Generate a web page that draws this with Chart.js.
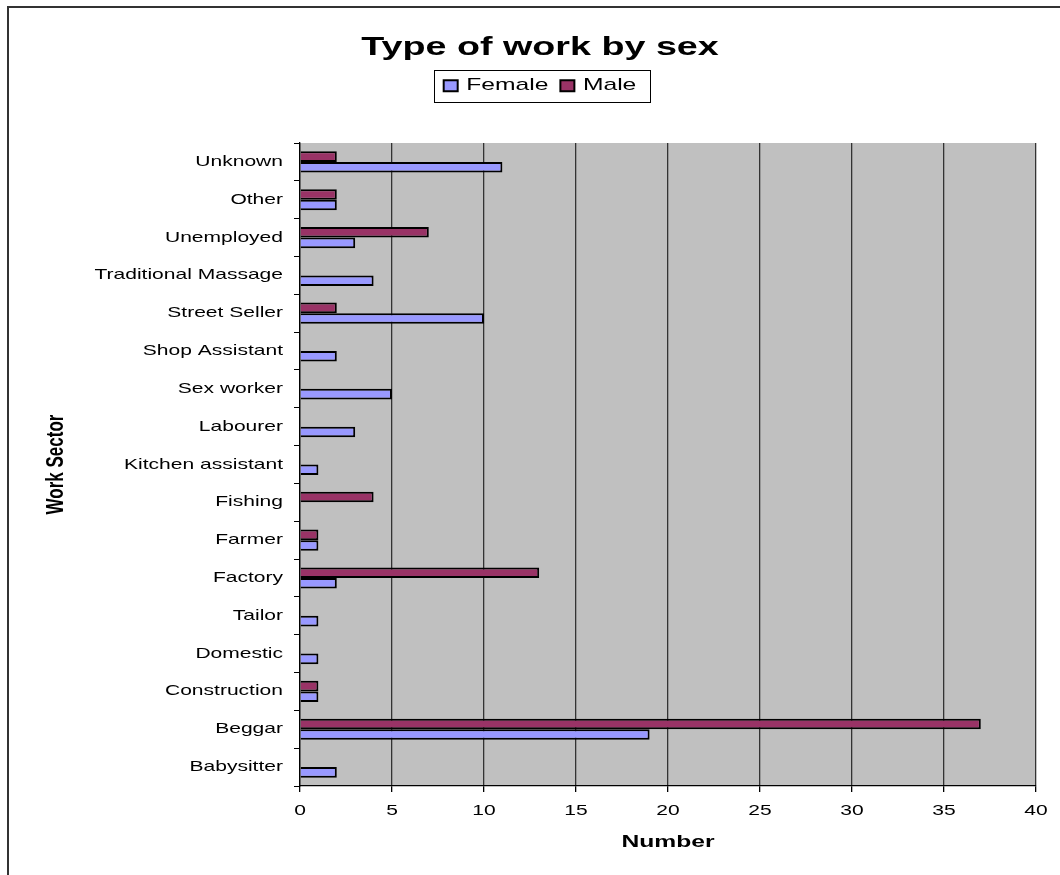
<!DOCTYPE html>
<html>
<head>
<meta charset="utf-8">
<script src="https://cdn.jsdelivr.net/npm/chart.js@4/dist/chart.umd.min.js"></script>
<style>
  html, body { margin: 0; padding: 0; background: #ffffff; }
  #wrap { width: 1060px; height: 875px; position: relative; }
</style>
</head>
<body>
<div id="wrap"><canvas id="c" width="1060" height="875"></canvas></div>
<script>
// ---- data ----
const chartTitle = "Type of work by sex";
const categories = ["Unknown", "Other", "Unemployed", "Traditional Massage", "Street Seller",
  "Shop Assistant", "Sex worker", "Labourer", "Kitchen assistant", "Fishing", "Farmer",
  "Factory", "Tailor", "Domestic", "Construction", "Beggar", "Babysitter"];
const femaleValues = [11, 2, 3, 4, 10, 2, 5, 3, 1, null, 1, 2, 1, 1, 1, 19, 2];
const maleValues   = [2, 2, 7, null, 2, null, null, null, null, 4, 1, 13, null, null, 1, 37, null];
const seriesNames = ["Female", "Male"];
const xTickMin = 0, xTickMax = 40, xTickStep = 5;
const xAxisTitle = "Number";
const yAxisTitle = "Work Sector";

// ---- text stretched horizontally like the reference picture ----
const SX = 1.45;
const canvas = document.getElementById('c');
const ctx = canvas.getContext('2d');
const oFill = ctx.fillText.bind(ctx);
const oMeasure = ctx.measureText.bind(ctx);
ctx.fillText = function (text, x, y, maxWidth) {
  const m = ctx.getTransform();
  const p = m.transformPoint(new DOMPoint(x, y));
  ctx.save();
  ctx.setTransform(m.a * SX, m.b, m.c * SX, m.d, p.x, p.y);
  if (maxWidth === undefined || maxWidth === null) oFill(text, 0, 0);
  else oFill(text, 0, 0, maxWidth / SX);
  ctx.restore();
};
ctx.measureText = function (t) {
  const r = oMeasure(t);
  return {
    width: r.width * SX,
    actualBoundingBoxAscent: r.actualBoundingBoxAscent,
    actualBoundingBoxDescent: r.actualBoundingBoxDescent,
    actualBoundingBoxLeft: r.actualBoundingBoxLeft * SX,
    actualBoundingBoxRight: r.actualBoundingBoxRight * SX,
    fontBoundingBoxAscent: r.fontBoundingBoxAscent,
    fontBoundingBoxDescent: r.fontBoundingBoxDescent
  };
};

const FONT = "'Liberation Sans', Arial, sans-serif";

// spacer between legend and plot area
const spacerPlugin = {
  id: 'spacer',
  beforeInit(chart) {
    const box = {
      position: 'top', weight: 10, fullSize: true, options: {},
      left: 0, top: 0, right: 0, bottom: 0, width: 0, height: 0,
      isHorizontal() { return true; },
      getPadding() { return { top: 0, left: 0, right: 0, bottom: 0 }; },
      update(maxWidth) { this.width = maxWidth; this.height = 38.8; return this; },
      draw() {}
    };
    Chart.layouts.addBox(chart, box);
  }
};

const decorPlugin = {
  id: 'decor',
  beforeDraw(chart) {
    const c = chart.ctx, a = chart.chartArea;
    c.save();
    c.fillStyle = '#ffffff';
    c.fillRect(0, 0, chart.width, chart.height);
    c.fillStyle = '#C0C0C0';
    c.fillRect(a.left, a.top, a.right - a.left, a.bottom - a.top);
    c.strokeStyle = '#333333';
    c.lineWidth = 2;
    c.beginPath();
    c.moveTo(8, chart.height);
    c.lineTo(8, 7);
    c.lineTo(chart.width, 7);
    c.stroke();
    c.restore();
  },
  afterDraw(chart) {
    const hb = chart.legend && chart.legend.legendHitBoxes;
    if (!hb || !hb.length) return;
    const first = hb[0], last = hb[hb.length - 1];
    const cy = first.top + first.height / 2;
    const c = chart.ctx;
    c.save();
    c.strokeStyle = '#000000';
    c.lineWidth = 1;
    const l = Math.round(first.left - 10) + 0.5;
    const r = Math.round(last.left + last.width + 14) + 0.5;
    const t = Math.round(cy - 16) + 0.5;
    const b = Math.round(cy + 16) + 0.5;
    c.strokeRect(l, t, r - l, b - t);
    c.restore();
  }
};

new Chart(ctx, {
  type: 'bar',
  data: {
    labels: categories,
    datasets: [
      { label: seriesNames[1], data: maleValues, backgroundColor: '#993366', borderColor: '#000000', borderWidth: 2 },
      { label: seriesNames[0], data: femaleValues, backgroundColor: '#9999FF', borderColor: '#000000', borderWidth: 2 }
    ]
  },
  options: {
    indexAxis: 'y',
    responsive: false,
    animation: false,
    devicePixelRatio: 1,
    layout: { padding: { left: 44, right: 24, top: 8, bottom: 0 } },
    datasets: { bar: { categoryPercentage: 0.56, barPercentage: 1.0 } },
    plugins: {
      title: {
        display: true, text: chartTitle, color: '#000000',
        font: { family: FONT, size: 26, weight: 'bold' },
        padding: { top: 24, bottom: 2 }
      },
      legend: {
        display: true, position: 'top', reverse: true,
        labels: {
          color: '#000000', boxWidth: 14, boxHeight: 11, padding: 12,
          font: { family: FONT, size: 17 }
        }
      },
      tooltip: { enabled: false }
    },
    scales: {
      x: {
        min: xTickMin, max: xTickMax,
        ticks: { stepSize: xTickStep, color: '#000000', padding: 10, font: { family: FONT, size: 14.5 } },
        grid: { color: '#333333', lineWidth: 1.3, tickColor: '#000000', tickLength: 6, drawTicks: true },
        border: { color: '#000000', width: 1.3 },
        title: { display: true, text: xAxisTitle, color: '#000000', font: { family: FONT, size: 17, weight: 'bold' }, padding: { top: 4, bottom: 22 } },
        afterFit(scale) { scale.height = 89; }
      },
      y: {
        ticks: { color: '#000000', padding: 11, font: { family: FONT, size: 14.5 } },
        grid: { drawOnChartArea: false, tickColor: '#000000', tickLength: 6, offset: true },
        border: { color: '#000000', width: 1.3 },
        title: { display: true, text: yAxisTitle, color: '#000000', font: { family: FONT, size: 17, weight: 'bold' }, padding: { top: 2, bottom: 0 } },
        afterFit(scale) { scale.width = 256; }
      }
    }
  },
  plugins: [spacerPlugin, decorPlugin]
});
</script>
</body>
</html>
